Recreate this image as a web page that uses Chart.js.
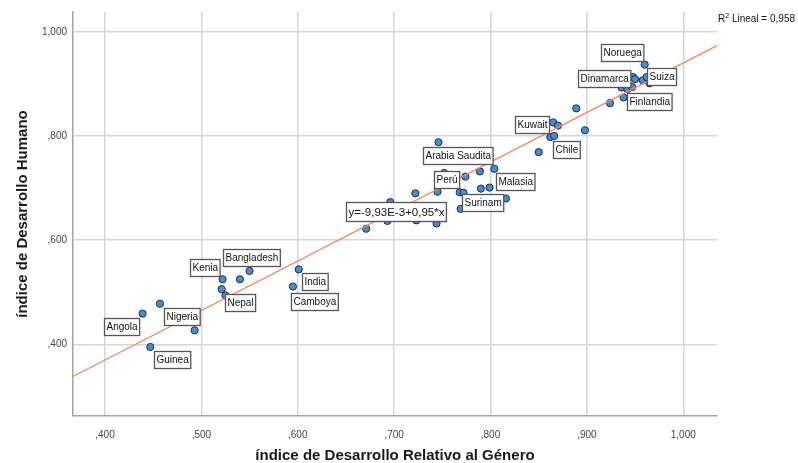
<!DOCTYPE html>
<html>
<head>
<meta charset="utf-8">
<script src="https://cdn.jsdelivr.net/npm/chart.js@4/dist/chart.umd.min.js"></script>
<style>
  html, body { margin: 0; padding: 0; background: #ffffff; }
  #wrap { width: 798px; height: 463px; }
</style>
</head>
<body>
<div id="wrap"><canvas id="chart" width="798" height="463"></canvas></div>
<script>
// Country names ('' = unlabelled point)
const countries = [
  'Angola', '', 'Nigeria', 'Guinea', 'Kenia', '', 'Bangladesh', '', 'Nepal', 'India', 'Camboya',
  '', '', '', '', '', '', '', 'Arabia Saudita', 'Perú', '', '', '', 'Surinam', '', 'Malasia',
  '', '', '', '', '', 'Kuwait', '', '', 'Chile', '', '',
  'Noruega', '', '', '', 'Suiza', '', 'Dinamarca', '', '', '', 'Finlandia', ''
];

// Índice de Desarrollo Relativo al Género (x)
const gdiValues = [
  0.439, 0.457, 0.493, 0.447, 0.522, 0.540, 0.550, 0.521, 0.525, 0.601, 0.595,
  0.671, 0.693, 0.696, 0.722, 0.723, 0.745, 0.744, 0.746, 0.752, 0.774, 0.768, 0.772, 0.769, 0.789, 0.804,
  0.790, 0.799, 0.816, 0.792, 0.850, 0.865, 0.870, 0.862, 0.866, 0.889, 0.898,
  0.960, 0.948, 0.950, 0.958, 0.962, 0.965, 0.936, 0.942, 0.947, 0.938, 0.946, 0.924
];

// Índice de Desarrollo Humano (y)
const hdiValues = [
  0.459, 0.478, 0.427, 0.395, 0.525, 0.525, 0.541, 0.506, 0.494, 0.544, 0.511,
  0.622, 0.637, 0.673, 0.690, 0.638, 0.693, 0.632, 0.788, 0.729, 0.722, 0.692, 0.691, 0.660, 0.732, 0.737,
  0.699, 0.701, 0.680, 0.753, 0.769, 0.826, 0.820, 0.798, 0.800, 0.853, 0.811,
  0.937, 0.913, 0.909, 0.907, 0.913, 0.901, 0.893, 0.890, 0.894, 0.874, 0.857, 0.863
];

// Linear fit
const fitIntercept = -0.00993;
const fitSlope = 0.95;
const fitR2 = 0.958;
const fitEquation = 'y=-9,93E-3+0,95*x';
const r2Text = ' Lineal = 0,958';

// Axis ticks
const xTickValues = [0.4, 0.5, 0.6, 0.7, 0.8, 0.9, 1.0];
const xTickLabels = [',400', ',500', ',600', ',700', ',800', ',900', '1,000'];
const yTickValues = [0.4, 0.6, 0.8, 1.0];
const yTickLabels = [',400', ',600', ',800', '1,000'];

// Axis ranges
const xRange = [0.3668, 1.035];
const yRange = [0.2625, 1.038];

// Label placement (pixel offsets of the label box centre from its point)
const labelOffsets = {
  'Noruega': [-23, -12], 'Dinamarca': [-17, -9], 'Suiza': [15, -0.5], 'Finlandia': [18, -5],
  'Kuwait': [-21, 2], 'Chile': [12, 14], 'Arabia Saudita': [19, 13], 'Perú': [2, 7],
  'Malasia': [21, 13], 'Surinam': [22, -6], 'Kenia': [-18, -12], 'Bangladesh': [2, -13],
  'India': [16, 12], 'Camboya': [21, 15], 'Nepal': [15, 7], 'Nigeria': [-13, -14],
  'Angola': [-21, 13], 'Guinea': [22, 13]
};
const equationAnchorX = 0.72;
const equationOffset = [-17.5, 9.5];

const FONT = "'Liberation Sans', Arial, sans-serif";

const points = gdiValues.map((x, i) => ({ x: x, y: hdiValues[i] }));
const fitLine = xRange.map(x => ({ x: x, y: fitIntercept + fitSlope * x }));

function drawBoxLabel(ctx, text, cx, cy, size) {
  ctx.font = size + 'px ' + FONT;
  const w = ctx.measureText(text).width + 4;
  const h = Math.round(size * 1.65);
  const x0 = Math.round(cx - w / 2) + 0.5;
  const y0 = Math.round(cy - h / 2) + 0.5;
  ctx.fillStyle = '#ffffff';
  ctx.fillRect(x0, y0, w, h);
  ctx.strokeStyle = '#555555';
  ctx.lineWidth = 1.3;
  ctx.strokeRect(x0, y0, w, h);
  ctx.fillStyle = '#111111';
  ctx.textAlign = 'center';
  ctx.textBaseline = 'middle';
  ctx.fillText(text, x0 + w / 2, y0 + h / 2 + 0.5);
}

const labelPlugin = {
  id: 'pointLabels',
  afterDatasetsDraw(chart) {
    const { ctx, scales: { x, y }, chartArea } = chart;
    ctx.save();
    // equation of the fitted line
    const ex = x.getPixelForValue(equationAnchorX) + equationOffset[0];
    const ey = y.getPixelForValue(fitIntercept + fitSlope * equationAnchorX) + equationOffset[1];
    drawBoxLabel(ctx, fitEquation, ex, ey, 11.5);
    // country labels
    countries.forEach((name, i) => {
      if (!name) return;
      const off = labelOffsets[name] || [0, -12];
      const px = x.getPixelForValue(gdiValues[i]) + off[0];
      const py = y.getPixelForValue(hdiValues[i]) + off[1];
      drawBoxLabel(ctx, name, px, py, 10);
    });
    // R² annotation
    let tx = chartArea.right + 1;
    const ty = 22;
    ctx.fillStyle = '#111111';
    ctx.textAlign = 'left';
    ctx.textBaseline = 'alphabetic';
    ctx.font = '10px ' + FONT;
    ctx.fillText('R', tx, ty);
    tx += ctx.measureText('R').width;
    ctx.font = '7px ' + FONT;
    ctx.fillText('2', tx, ty - 4);
    tx += ctx.measureText('2').width;
    ctx.font = '10px ' + FONT;
    ctx.fillText(r2Text, tx, ty);
    ctx.restore();
  }
};

new Chart(document.getElementById('chart'), {
  type: 'scatter',
  data: {
    datasets: [
      {
        type: 'line',
        data: fitLine,
        borderColor: '#f28a62',
        borderWidth: 1.3,
        pointRadius: 0,
        fill: false,
        order: 0
      },
      {
        data: points,
        backgroundColor: '#4b8bd6',
        borderColor: '#1b2c45',
        borderWidth: 1,
        pointRadius: 3.6,
        order: 1
      }
    ]
  },
  options: {
    responsive: false,
    animation: false,
    events: [],
    layout: { padding: { top: 10, right: 81, left: 0, bottom: 0 } },
    plugins: { legend: { display: false }, tooltip: { enabled: false } },
    scales: {
      x: {
        type: 'linear',
        min: xRange[0],
        max: xRange[1],
        afterBuildTicks: s => { s.ticks = xTickValues.map(v => ({ value: v })); },
        afterFit: s => { s.height = 47; },
        ticks: {
          callback: (v, i) => xTickLabels[i],
          font: { family: FONT, size: 10 },
          color: '#444444',
          padding: 13,
          maxRotation: 0
        },
        grid: { color: '#d6d6d6', lineWidth: 1.5, drawTicks: false },
        border: { color: '#a3a3a3', width: 1.5 },
        title: {
          display: true,
          text: 'índice de Desarrollo Relativo al Género',
          font: { family: FONT, size: 15, weight: 'bold', lineHeight: 1 },
          color: '#1a1a1a',
          padding: { top: 0, bottom: 0 }
        }
      },
      y: {
        type: 'linear',
        min: yRange[0],
        max: yRange[1],
        afterBuildTicks: s => { s.ticks = yTickValues.map(v => ({ value: v })); },
        afterFit: s => { s.width = 73; },
        ticks: {
          callback: (v, i) => yTickLabels[i],
          font: { family: FONT, size: 10 },
          color: '#444444',
          padding: 6
        },
        grid: { color: '#d6d6d6', lineWidth: 1.5, drawTicks: false },
        border: { color: '#a3a3a3', width: 1.5 },
        title: {
          display: true,
          text: 'índice de Desarrollo Humano',
          font: { family: FONT, size: 15, weight: 'bold', lineHeight: 1 },
          color: '#1a1a1a',
          padding: { top: 15, bottom: 0 }
        }
      }
    }
  },
  plugins: [labelPlugin]
});
</script>
</body>
</html>
